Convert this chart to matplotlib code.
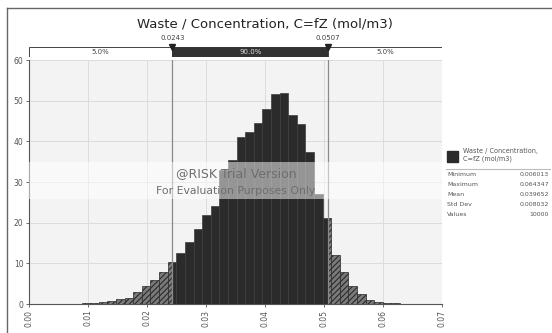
import numpy as np
import matplotlib
matplotlib.use("Agg")
import matplotlib.pyplot as plt
from matplotlib.patches import Rectangle
from matplotlib.lines import Line2D

# ---------------- data ----------------
title = "Waste / Concentration, C=fZ (mol/m3)"
bin_start = 0.006013
bin_width = 0.001458
densities = [0.05, 0.1, 0.2, 0.3, 0.45, 0.8, 1.2, 1.5, 3.0, 4.4,
             5.9, 7.8, 10.4, 12.6, 15.2, 18.5, 22.0, 24.2, 33.0, 35.3,
             41.1, 42.2, 44.4, 48.0, 51.6, 51.9, 46.4, 44.2, 37.5, 27.0,
             21.2, 12.1, 7.9, 4.5, 2.5, 1.0, 0.5, 0.3, 0.2, 0.1]
p_low, p_high = 0.0243, 0.0507
band_labels = ["5.0%", "90.0%", "5.0%"]
x_ticks = [0.00, 0.01, 0.02, 0.03, 0.04, 0.05, 0.06, 0.07]
y_ticks = [0, 10, 20, 30, 40, 50, 60]
stat_names = ["Minimum", "Maximum", "Mean", "Std Dev", "Values"]
stat_values = ["0.006013", "0.064347", "0.039652", "0.008032", "10000"]
legend_label = "Waste / Concentration,\nC=fZ (mol/m3)"

plt.rcParams['font.family'] = ['DejaVu Sans']
plt.rcParams['hatch.color'] = '#262626'
plt.rcParams['hatch.linewidth'] = 0.8

W, H = 552, 333
fig = plt.figure(figsize=(W / 100, H / 100), dpi=100)
fig.patch.set_facecolor('white')

def fx(px):
    return px / W

def fy(py):
    return 1 - py / H

# main axes
x0, x1 = 29, 442
ytop, ybot = 60, 304
ax = fig.add_axes([fx(x0), fy(ybot), fx(x1) - fx(x0), fy(ytop) - fy(ybot)])
ax.set_xlim(0, 0.07)
ax.set_ylim(0, 60)
ax.set_facecolor('#f3f3f3')
ax.set_axisbelow(True)
ax.grid(True, color='#dcdcdc', linewidth=0.7)
for s in ['top', 'right']:
    ax.spines[s].set_visible(False)
for s in ['left', 'bottom']:
    ax.spines[s].set_color('#555555')
    ax.spines[s].set_linewidth(0.8)
ax.set_xticks(x_ticks)
ax.set_xticklabels([f"{v:.2f}" for v in x_ticks], rotation=90)
ax.set_yticks(y_ticks)
ax.tick_params(axis='both', labelsize=5.5, colors='#555555', length=2, width=0.6, pad=2)

# bars
edges = bin_start + bin_width * np.arange(len(densities) + 1)
for i, h in enumerate(densities):
    l, r = edges[i], edges[i + 1]
    segs = [(l, min(r, p_low), 'out'), (max(l, p_low), min(r, p_high), 'in'), (max(l, p_high), r, 'out')]
    for a, b, kind in segs:
        if b <= a:
            continue
        if kind == 'in':
            ax.bar(a, h, width=b - a, align='edge', color='#2b2b2b', edgecolor='#3d3d3d', linewidth=0.5, zorder=3)
        else:
            ax.bar(a, h, width=b - a, align='edge', color='#7a7a7a', edgecolor='#2a2a2a', hatch='//////', linewidth=0.5, zorder=3)

# percentile lines
for p in (p_low, p_high):
    ax.axvline(p, color='#8a8a8a', linewidth=0.9, zorder=4)

# watermark
ax.add_patch(Rectangle((0, 25.7), 0.07, 9.1, facecolor='white', alpha=0.5, edgecolor='none', zorder=5))
ax.text(0.0351, 32.1, "@RISK Trial Version", ha='center', va='center', fontsize=9.0, color='#6e6e6e', zorder=6)
ax.text(0.0351, 27.7, "For Evaluation Purposes Only", ha='center', va='center', fontsize=7.8, color='#6e6e6e', zorder=6)

# percentile band
band = fig.add_axes([fx(x0), fy(57), fx(x1) - fx(x0), fy(47) - fy(57)])
band.set_xlim(0, 0.07)
band.set_ylim(0, 1)
band.axis('off')
band.add_patch(Rectangle((0, 0), p_low, 1, facecolor='white', edgecolor='#444444', linewidth=0.7))
band.add_patch(Rectangle((p_low, 0), p_high - p_low, 1, facecolor='#333333', edgecolor='#333333', linewidth=0.7))
band.add_patch(Rectangle((p_high, 0), 0.07 - p_high, 1, facecolor='white', edgecolor='#444444', linewidth=0.7))
band.text(p_low / 2, 0.5, band_labels[0], ha='center', va='center', fontsize=5, color='#444444')
band.text((p_low + p_high) / 2, 0.5, band_labels[1], ha='center', va='center', fontsize=5, color='#dddddd')
band.text((p_high + 0.07) / 2, 0.5, band_labels[2], ha='center', va='center', fontsize=5, color='#444444')
for p in (p_low, p_high):
    band.text(p, 1.6, f"{p:.4f}", ha='center', va='bottom', fontsize=5, color='#444444', clip_on=False)
    band.plot([p], [1.05], marker='v', markersize=4, color='#222222', clip_on=False)

# title
fig.text(fx(265), fy(24), title, ha='center', va='center', fontsize=9.5, color='#222222')

# figure frame
fig.add_artist(Line2D([fx(7), 1], [fy(8), fy(8)], color='#666666', linewidth=1))
fig.add_artist(Line2D([fx(7), fx(7)], [0, fy(8)], color='#666666', linewidth=1))

# legend
fig.add_artist(Rectangle((fx(447), fy(162)), fx(458) - fx(447), fy(151) - fy(162), facecolor='#2b2b2b', edgecolor='#2b2b2b'))
fig.text(fx(463), fy(155), legend_label, ha='left', va='center', fontsize=4.7, color='#555555', linespacing=1.45)
fig.add_artist(Line2D([fx(446), fx(550)], [fy(169), fy(169)], color='#bbbbbb', linewidth=0.8))
row_y = [175, 185, 194.5, 204, 214]
for yy, n, v in zip(row_y, stat_names, stat_values):
    fig.text(fx(447), fy(yy), n, ha='left', va='center', fontsize=4.5, color='#555555')
    fig.text(fx(549), fy(yy), v, ha='right', va='center', fontsize=4.5, color='#555555')

fig.savefig("out.png", dpi=100)
